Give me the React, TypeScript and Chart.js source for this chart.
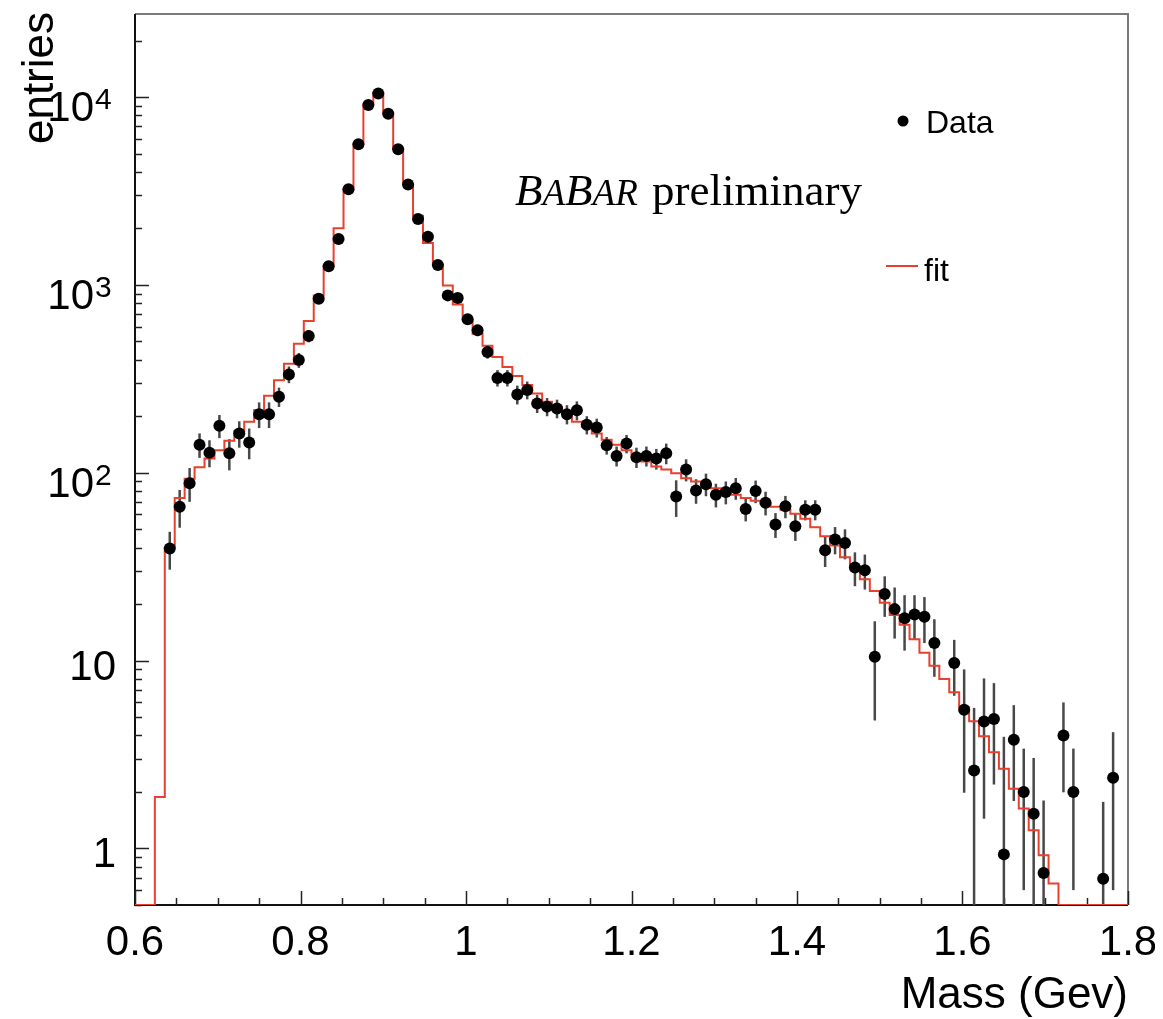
import React, { useEffect, useRef } from "react";
import { Chart, registerables } from "chart.js";

Chart.register(...registerables);

// ---- histogram binning (0.6 .. 1.8 GeV, 100 bins) ----
const BIN_LOW = 0.6;
const BIN_WIDTH = 0.012;

// ---- data points (entries per bin, null = empty bin) ----
const dataCounts: (number | null)[] = [
  null, null, null, 39.5, 66, 88, 141, 128, 178, 127,
  162, 145, 205, 205, 254, 334, 398, 535, 844, 1259,
  1757, 3236, 5606, 9072, 10450, 8150, 5270, 3426, 2243, 1808,
  1278, 880, 851, 656, 574, 440, 320, 320, 261, 276,
  234, 225, 220, 205, 215, 180, 174, 140, 123, 143,
  121, 123, 119, 127, 74.7, 104, 80.4, 87, 76.4, 78.9,
  82.8, 64.1, 79.9, 69.3, 53, 66.3, 51.9, 63.6, 63.6, 38.7,
  44.1, 42.3, 31.3, 30.3, 10.5, 22.6, 18.8, 16.8, 17.6, 17.1,
  12.4, null, 9.7, 5.48, 2.6, 4.74, 4.89, 0.93, 3.79, 2.0,
  1.53, 0.74, null, 3.99, 2.0, null, null, 0.69, 2.38, null,
];

// ---- data errors (symmetric) ----
const dataErrors: (number | null)[] = [
  null, null, null, 9, 15, 18, 21, 21, 25, 24,
  26, 27, 32, 32, 30, 34, 36, 40, 50, 60,
  70, 95, 120, 150, 160, 140, 115, 95, 75, 68,
  58, 48, 47, 42, 40, 35, 32, 32, 30, 30,
  26, 25, 25, 24, 25, 20, 20, 15, 15, 16,
  15, 15, 15, 16, 16.5, 14, 12, 12, 11, 11,
  11, 9, 11, 10, 8, 9, 8.5, 7.8, 7.8, 7.2,
  7.3, 7.7, 6.4, 6.4, 5.7, 5.5, 5.7, 5.5, 4.7, 4.7,
  4.2, null, 3.2, 3.5, 3.0, 3.3, 2.7, 3.0, 2.0, 1.4,
  1.5, 1.06, null, 2.0, 1.4, null, null, 1.08, 1.78, null,
];

// ---- fit histogram (entries per bin) ----
const fitCounts: number[] = [
  0, 0, 1.88, 39.8, 73.5, 93, 107, 119, 132, 148,
  167, 187, 216, 257, 311, 381, 487, 643, 880, 1269,
  2002, 3236, 5654, 9140, 10540, 8260, 5320, 3414, 2337, 1672,
  1278, 994, 788, 648, 550, 474, 414, 366, 328, 293,
  264, 239, 225, 207, 187, 176, 162, 150, 141, 132,
  122, 115, 108, 104, 99.5, 93.6, 90, 86.3, 82.8, 79.6,
  76.4, 73.5, 71, 68.5, 66, 63.5, 60.5, 57, 51.3, 45.9,
  41, 35.5, 31.8, 27.1, 23.5, 20.3, 17.5, 15.5, 13, 11,
  9.4, 7.98, 6.78, 5.64, 4.75, 3.96, 3.25, 2.66, 2.08, 1.63,
  1.25, 0.92, 0.65, 0, 0, 0, 0, 0, 0, 0,
];

// ---- axes ----
const X_MIN = 0.6;
const X_MAX = 1.8;
const Y_MIN = 0.5;
const Y_MAX = 27700;
const xTickValues = [0.6, 0.8, 1.0, 1.2, 1.4, 1.6, 1.8];
const xTickLabels = ["0.6", "0.8", "1", "1.2", "1.4", "1.6", "1.8"];
const yTickValues = [1, 10, 100, 1000, 10000];
const yTickBases = ["1", "10", "10", "10", "10"];
const yTickExps = ["", "", "2", "3", "4"];

const SANS = "'Liberation Sans', Arial, Helvetica, sans-serif";
const SERIF = "'Liberation Serif', 'Times New Roman', serif";
const FIT_COLOR = "#e8402f";

const W = 1147;
const H = 1011;
const OFF = 8; // page -> canvas offset (body margin)

const rootPlugin = {
  id: "rootStyle",
  beforeDatasetsDraw(chart: any) {
    const { ctx, chartArea: a, scales } = chart;
    const xs = scales.x;
    const ys = scales.y;
    ctx.save();
    // frame top/right
    ctx.lineWidth = 2;
    ctx.strokeStyle = "#7a7a7a";
    ctx.beginPath();
    ctx.moveTo(a.left, a.top);
    ctx.lineTo(a.right, a.top);
    ctx.lineTo(a.right, a.bottom);
    ctx.stroke();
    // axes left/bottom
    ctx.strokeStyle = "#111";
    ctx.beginPath();
    ctx.moveTo(a.left, a.top);
    ctx.lineTo(a.left, a.bottom);
    ctx.lineTo(a.right, a.bottom);
    ctx.stroke();
    // y ticks
    ctx.lineWidth = 1.5;
    ctx.strokeStyle = "#222";
    for (let e = -1; e <= 4; e++) {
      for (let m = 1; m <= 9; m++) {
        const v = m * Math.pow(10, e);
        if (v < Y_MIN || v > Y_MAX) continue;
        const py = Math.round(ys.getPixelForValue(v)) + 0.5;
        const len = m === 1 ? 14 : 7;
        ctx.beginPath();
        ctx.moveTo(a.left, py);
        ctx.lineTo(a.left + len, py);
        ctx.stroke();
      }
    }
    // x ticks
    for (let i = 0; i <= 24; i++) {
      const v = X_MIN + 0.05 * i;
      const px = Math.round(xs.getPixelForValue(v)) + 0.5;
      const len = i % 4 === 0 ? 14 : 7;
      ctx.beginPath();
      ctx.moveTo(px, a.bottom);
      ctx.lineTo(px, a.bottom - len);
      ctx.stroke();
    }
    // error bars
    ctx.beginPath();
    ctx.rect(a.left, a.top, a.right - a.left, a.bottom - a.top);
    ctx.clip();
    ctx.strokeStyle = "#484848";
    ctx.lineWidth = 2.5;
    for (let i = 0; i < dataCounts.length; i++) {
      const v = dataCounts[i];
      const err = dataErrors[i];
      if (v == null || err == null) continue;
      const px = xs.getPixelForValue(BIN_LOW + BIN_WIDTH * (i + 0.5));
      const hi = ys.getPixelForValue(v + err);
      const lo = v - err > 0 ? ys.getPixelForValue(v - err) : a.bottom + 5;
      ctx.beginPath();
      ctx.moveTo(px, hi);
      ctx.lineTo(px, Math.min(lo, a.bottom + 5));
      ctx.stroke();
    }
    ctx.restore();
  },
  afterDraw(chart: any) {
    const { ctx, chartArea: a, scales } = chart;
    const xs = scales.x;
    const ys = scales.y;
    ctx.save();
    ctx.fillStyle = "#000";
    // y tick labels
    for (let i = 0; i < yTickValues.length; i++) {
      const py = ys.getPixelForValue(yTickValues[i]);
      if (yTickExps[i]) {
        ctx.font = `42px ${SANS}`;
        ctx.textAlign = "right";
        ctx.textBaseline = "alphabetic";
        ctx.fillText(yTickBases[i], 94 - OFF, py + 24);
        ctx.font = `30px ${SANS}`;
        ctx.textAlign = "left";
        ctx.fillText(yTickExps[i], 95 - OFF, py + 12);
      } else {
        ctx.font = `42px ${SANS}`;
        ctx.textAlign = "right";
        ctx.textBaseline = "alphabetic";
        ctx.fillText(yTickBases[i], 116 - OFF, py + 19);
      }
    }
    // x tick labels
    ctx.font = `42px ${SANS}`;
    ctx.textAlign = "center";
    ctx.textBaseline = "alphabetic";
    for (let i = 0; i < xTickValues.length; i++) {
      const px = xs.getPixelForValue(xTickValues[i]);
      ctx.fillText(xTickLabels[i], px, 955 - OFF);
    }
    // axis titles
    ctx.font = `44px ${SANS}`;
    ctx.textAlign = "right";
    ctx.fillText("Mass (Gev)", a.right, 1008 - OFF);
    ctx.save();
    ctx.translate(53 - OFF, 12 - OFF);
    ctx.rotate(-Math.PI / 2);
    ctx.textAlign = "right";
    ctx.fillText("entries", 0, 0);
    ctx.restore();
    // legend
    ctx.beginPath();
    ctx.arc(903 - OFF, 121 - OFF, 5.5, 0, Math.PI * 2);
    ctx.fill();
    ctx.font = `32px ${SANS}`;
    ctx.textAlign = "left";
    ctx.fillText("Data", 926 - OFF, 133 - OFF);
    ctx.strokeStyle = FIT_COLOR;
    ctx.lineWidth = 2;
    ctx.beginPath();
    ctx.moveTo(886 - OFF, 266 - OFF);
    ctx.lineTo(918 - OFF, 266 - OFF);
    ctx.stroke();
    ctx.fillText("fit", 924 - OFF, 281 - OFF);
    // BABAR preliminary
    let tx = 515 - OFF;
    const by = 205 - OFF;
    const big = `italic 45px ${SERIF}`;
    const small = `italic 37px ${SERIF}`;
    const parts: [string, string][] = [["B", big], ["A", small], ["B", big], ["AR", small]];
    for (const [t, f] of parts) {
      ctx.font = f;
      ctx.fillText(t, tx, by);
      tx += ctx.measureText(t).width;
    }
    ctx.font = `45px ${SERIF}`;
    ctx.fillText("preliminary", 652 - OFF, by);
    ctx.restore();
  },
};

export default function App() {
  const ref = useRef<HTMLCanvasElement | null>(null);
  useEffect(() => {
    if (!ref.current) return;
    const fitPoints: { x: number; y: number }[] = fitCounts.map((v, i) => ({
      x: BIN_LOW + BIN_WIDTH * i,
      y: v > Y_MIN ? v : Y_MIN,
    }));
    fitPoints.push({
      x: BIN_LOW + BIN_WIDTH * fitCounts.length,
      y: fitCounts[fitCounts.length - 1] > Y_MIN ? fitCounts[fitCounts.length - 1] : Y_MIN,
    });
    const dataPoints: { x: number; y: number }[] = [];
    dataCounts.forEach((v, i) => {
      if (v != null) dataPoints.push({ x: BIN_LOW + BIN_WIDTH * (i + 0.5), y: v });
    });
    const chart = new Chart(ref.current, {
      type: "scatter",
      data: {
        datasets: [
          {
            type: "scatter",
            label: "Data",
            data: dataPoints,
            pointRadius: 6,
            pointBackgroundColor: "#000",
            pointBorderWidth: 0,
            borderColor: "#000",
            order: 1,
          },
          {
            type: "line",
            label: "fit",
            data: fitPoints,
            stepped: "before",
            borderColor: FIT_COLOR,
            borderWidth: 2,
            pointRadius: 0,
            fill: false,
            order: 2,
          } as any,
        ],
      },
      options: {
        animation: false,
        responsive: false,
        events: [],
        layout: { padding: { left: 135 - OFF, right: W - (1128 - OFF), top: 11 - OFF, bottom: H - (905 - OFF) } },
        plugins: { legend: { display: false }, tooltip: { enabled: false } },
        scales: {
          x: { type: "linear", min: X_MIN, max: X_MAX, display: false },
          y: { type: "logarithmic", min: Y_MIN, max: Y_MAX, display: false },
        },
      },
      plugins: [rootPlugin],
    });
    return () => chart.destroy();
  }, []);
  return (
    <div style={{ width: W, height: H }}>
      <canvas ref={ref} width={W} height={H} style={{ display: "block" }} />
    </div>
  );
}
